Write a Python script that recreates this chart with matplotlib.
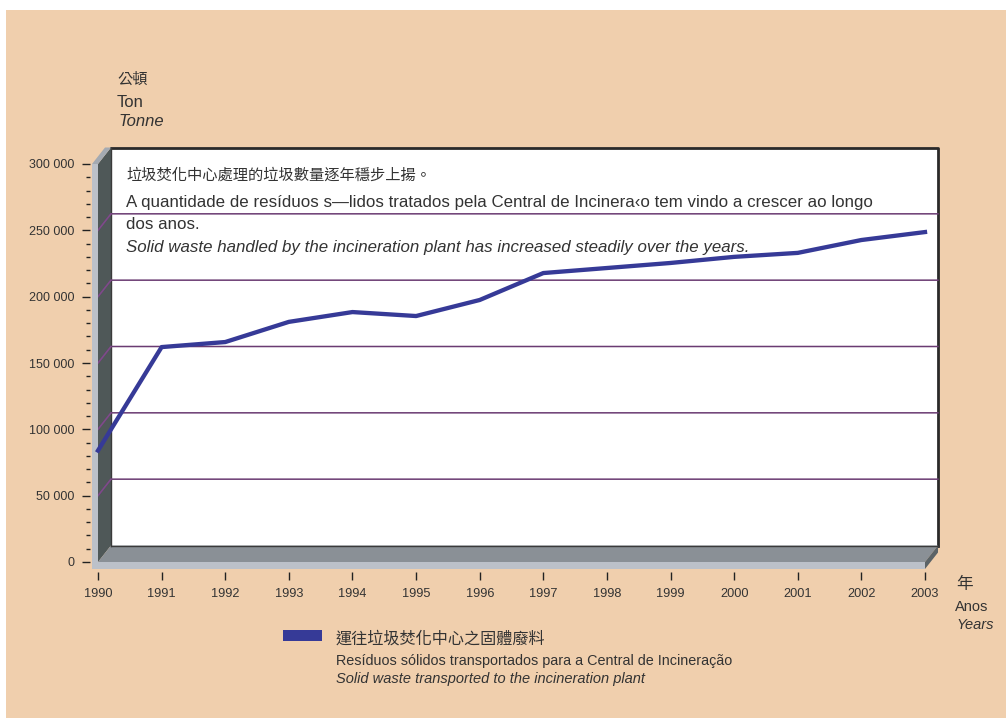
import matplotlib
matplotlib.use('Agg')
import matplotlib.pyplot as plt
from matplotlib.patches import Polygon, Rectangle
from matplotlib.ticker import MultipleLocator

# data
years = [1990, 1991, 1992, 1993, 1994, 1995, 1996, 1997, 1998, 1999, 2000, 2001, 2002, 2003]
waste = [84000, 162000, 165800, 181000, 188400, 185400, 197500, 217800, 221600, 225400,
         230000, 233000, 242700, 248700]
y_ticks = [0, 50000, 100000, 150000, 200000, 250000, 300000]
y_tick_labels = ['0', '50 000', '100 000', '150 000', '200 000', '250 000', '300 000']
grid_vals = [50000, 100000, 150000, 200000, 250000]

LAT = ['Liberation Sans Narrow', 'Liberation Sans', 'DejaVu Sans']
CJK = ['Noto Sans CJK TC', 'DejaVu Sans']
plt.rcParams['font.family'] = LAT

BG = '#F0CFAD'
TXT = '#333333'
PURPLE = '#6A3B72'
BLUE = '#363A97'

W, H = 1006, 718
fig = plt.figure(figsize=(W / 100, H / 100), dpi=100, facecolor='white')

def fx(px):
    return px / W

def fy(py):
    return 1 - py / H

bg = fig.add_axes([fx(6), 0, 1 - fx(6), 1 - 10 / H])
bg.set_facecolor(BG)
bg.set_xticks([])
bg.set_yticks([])
for s in bg.spines.values():
    s.set_visible(False)

ax = fig.add_axes([fx(98), fy(562), 827 / W, 398 / H])
ax.set_facecolor('none')
x0, x1 = years[0], years[-1]
ytop = y_ticks[-1]
ax.set_xlim(x0, x1)
ax.set_ylim(0, ytop)

# depth of the fake 3d box, in data units
xpp = (x1 - x0) / 827
ypp = ytop / 398
DX, DY = 13 * xpp, 16.5 * ypp
FX, FY = 6 * xpp, 7 * ypp

# back wall
ax.add_patch(Rectangle((x0 + DX, DY), x1 - x0, ytop, fc='white', ec='none', zorder=1, clip_on=False))
ax.plot([x0 + DX, x1 + DX, x1 + DX], [ytop + DY, ytop + DY, DY], color='#2a2a2a', lw=2,
        zorder=1.5, clip_on=False, solid_capstyle='projecting')

# left wall and floor
ax.add_patch(Polygon([(x0, 0), (x0, ytop), (x0 + DX, ytop + DY), (x0 + DX, DY)],
                     closed=True, fc='#4F5858', ec='none', zorder=3, clip_on=False))
ax.add_patch(Polygon([(x0, 0), (x1, 0), (x1 + DX, DY), (x0 + DX, DY)],
                     closed=True, fc='#8A9096', ec='none', zorder=3, clip_on=False))
ax.plot([x0 + DX, x1 + DX], [DY, DY], color='#3a3a3a', lw=1, zorder=3.2, clip_on=False)
ax.plot([x0 + DX, x0 + DX], [DY, ytop + DY], color='#3a3a3a', lw=1, zorder=3.2, clip_on=False)
ax.add_patch(Polygon([(x1, 0), (x1 + DX, DY), (x1 + DX, DY - FY), (x1, -FY)],
                     closed=True, fc='#5B6367', ec='none', zorder=3, clip_on=False))
ax.add_patch(Rectangle((x0 - FX, -FY), FX, ytop + FY, fc='#BCC1C9', ec='none', zorder=4, clip_on=False))
ax.add_patch(Rectangle((x0 - FX, -FY), x1 - x0 + FX, FY, fc='#BCC1C9', ec='none', zorder=4, clip_on=False))
ax.add_patch(Polygon([(x0 - FX, ytop), (x0, ytop), (x0 + DX, ytop + DY), (x0 + DX - FX, ytop + DY)],
                     closed=True, fc='#A4AAB2', ec='none', zorder=4, clip_on=False))

# grid lines on the back wall, bent across the left wall
for v in grid_vals:
    ax.plot([x0, x0 + DX, x1 + DX], [v, v + DY, v + DY], color=PURPLE, lw=1.1,
            zorder=3.5, clip_on=False)
    ax.plot([x0, x0 + DX], [v, v + DY], color='#7E4C8A', lw=1.1, zorder=3.6, clip_on=False)

ax.plot(years, waste, color=BLUE, lw=3.1, zorder=6, clip_on=False, solid_joinstyle='round')

# axes
for s in ax.spines.values():
    s.set_visible(False)
ax.spines['left'].set_position(('outward', 6))
ax.spines['bottom'].set_position(('outward', 7))
ax.set_xticks(years)
ax.set_xticklabels([str(y) for y in years])
ax.set_yticks(y_ticks)
ax.set_yticklabels(y_tick_labels)
ax.yaxis.set_minor_locator(MultipleLocator(10000))
ax.tick_params(axis='y', which='major', length=6, width=1, color='#222222', pad=5,
               labelsize=9, labelcolor=TXT)
ax.tick_params(axis='y', which='minor', length=3, width=1, color='#222222')
ax.tick_params(axis='x', length=6, width=1, color='#222222', pad=6, labelsize=9.2, labelcolor=TXT)

# unit labels
fig.text(fx(117), fy(79), '公頓', family=CJK, fontsize=11, color=TXT, va='center', ha='left')
fig.text(fx(117), fy(107), 'Ton', fontsize=12, color=TXT, va='baseline', ha='left')
fig.text(fx(118), fy(126), 'Tonne', fontsize=12, style='italic', color=TXT, va='baseline', ha='left')
fig.text(fx(956), fy(585), '年', family=CJK, fontsize=12, color=TXT, va='center', ha='left')
fig.text(fx(955), fy(611), 'Anos', fontsize=10.5, color=TXT, va='baseline', ha='left')
fig.text(fx(956), fy(629), 'Years', fontsize=10.5, style='italic', color=TXT, va='baseline', ha='left')

# note inside the chart
fig.text(fx(126), fy(175), '垃圾焚化中心處理的垃圾數量逐年穩步上揚。', family=CJK, fontsize=11,
         color=TXT, va='center', ha='left', zorder=10)
fig.text(fx(126), fy(207), 'A quantidade de resíduos s—lidos tratados pela Central de Incinera‹o tem vindo a crescer ao longo',
         fontsize=12.15, color=TXT, va='baseline', ha='left', zorder=10)
fig.text(fx(126), fy(229), 'dos anos.', fontsize=12.15, color=TXT, va='baseline', ha='left', zorder=10)
fig.text(fx(126), fy(252), 'Solid waste handled by the incineration plant has increased steadily over the years.',
         fontsize=12.15, style='italic', color=TXT, va='baseline', ha='left', zorder=10)

# legend
fig.patches.append(Rectangle((fx(283), fy(641)), 39 / W, 11 / H, transform=fig.transFigure,
                             fc=BLUE, ec='none', zorder=10))
fig.text(fx(336), fy(639), '運往垃圾焚化中心之固體廢料', family=CJK, fontsize=11.6, color=TXT,
         va='center', ha='left')
fig.text(fx(336), fy(665), 'Resíduos sólidos transportados para a Central de Incineração', fontsize=10.4,
         color=TXT, va='baseline', ha='left')
fig.text(fx(336), fy(683), 'Solid waste transported to the incineration plant', fontsize=10.5,
         style='italic', color=TXT, va='baseline', ha='left')

fig.savefig('out.png', dpi=100, facecolor=fig.get_facecolor())
